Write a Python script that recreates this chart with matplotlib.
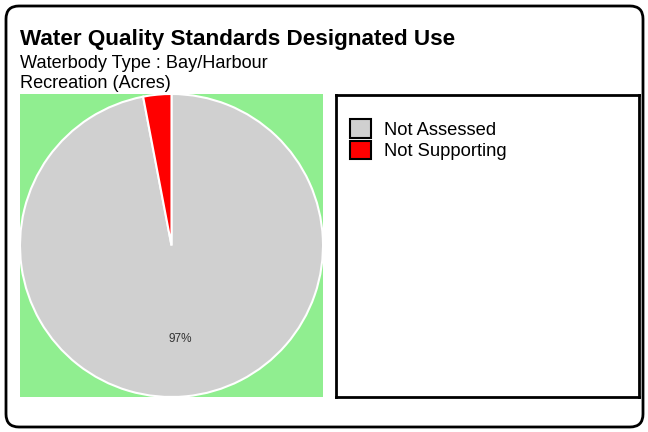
import matplotlib.pyplot as plt
from matplotlib.patches import FancyBboxPatch, Patch

categories = ["Not Assessed", "Not Supporting"]
values = [97, 3]
colors = ["#d0d0d0", "#ff0000"]

plt.rcParams['font.family'] = ['Liberation Sans', 'DejaVu Sans']

W, H = 648, 432
fig = plt.figure(figsize=(W / 100, H / 100), dpi=100)

# outer rounded frame
frame = FancyBboxPatch((6 / W, 5 / H), 637 / W, 421 / H,
                       boxstyle="round,pad=0,rounding_size=0.02",
                       transform=fig.transFigure, facecolor="none",
                       edgecolor="black", linewidth=2, mutation_aspect=W / H,
                       zorder=-1)
fig.patches.append(frame)

fig.text(20 / W, 1 - 40 / H, "Water Quality Standards Designated Use",
         fontsize=16.2, fontweight="bold", va="center", ha="left")
fig.text(20 / W, 1 - 64 / H, "Waterbody Type : Bay/Harbour",
         fontsize=13.1, va="center", ha="left")
fig.text(20 / W, 1 - 84 / H, "Recreation (Acres)",
         fontsize=13.1, va="center", ha="left")

# pie panel
ax = fig.add_axes([20 / W, 1 - 397 / H, 303 / W, 303 / H])
start = 90 + 360 * values[1] / sum(values)
wedges, texts, autotexts = ax.pie(
    values, colors=colors, startangle=start, counterclock=True,
    autopct=lambda p: "%d%%" % round(p) if p > 50 else "",
    pctdistance=0.62, radius=1.0,
    wedgeprops=dict(edgecolor="white", linewidth=1.5),
    textprops=dict(fontsize=8.5, color="#333333"))
ax.set_frame_on(True)
ax.patch.set_visible(True)
ax.set_facecolor("#90ee90")
ax.set_xlim(-1.0, 1.0)
ax.set_ylim(-1.0, 1.0)
ax.set_aspect("equal")
ax.set_xticks([])
ax.set_yticks([])
for s in ax.spines.values():
    s.set_visible(False)

# legend panel
lax = fig.add_axes([336 / W, 1 - 397 / H, 303 / W, 302 / H])
lax.set_xticks([])
lax.set_yticks([])
for s in lax.spines.values():
    s.set_linewidth(2)
handles = [Patch(facecolor=c, edgecolor="black", linewidth=1.5) for c in colors]
lax.legend(handles, categories, loc="upper left", bbox_to_anchor=(0.003, 0.962),
           frameon=False, fontsize=13.2, handlelength=1.15, handleheight=1.15,
           handletextpad=0.7, labelspacing=0.12, borderaxespad=0.3)

fig.savefig("out.png", dpi=100)
